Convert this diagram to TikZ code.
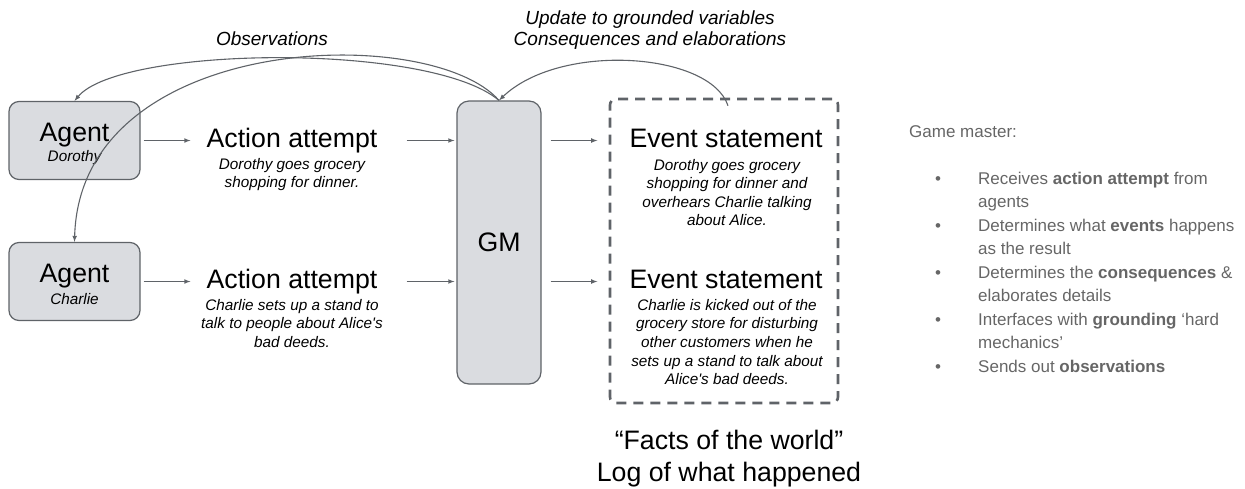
\documentclass[tikz,border=0pt]{standalone}
\usepackage{fontspec}
\setmainfont{Liberation Sans}
\usetikzlibrary{positioning}

\definecolor{linegray}{HTML}{5F6368}
\definecolor{boxgray}{HTML}{DADCE0}
\definecolor{textgray}{HTML}{666666}

\newcommand{\bigtxt}{\fontsize{26.7}{30}\selectfont}
\newcommand{\smalltxt}{\fontsize{15.3}{18.6}\selectfont\itshape}
\newcommand{\labeltxt}{\fontsize{19}{20.5}\selectfont\itshape}
\newcommand{\paneltxt}{\fontsize{17}{23.5}\selectfont}

\begin{document}
\begin{tikzpicture}[x=1pt,y=-1pt,
	agentbox/.style={draw=linegray, fill=boxgray, line width=1.2pt, rounded corners=10pt, minimum width=131pt, minimum height=78pt},
	gmbox/.style={draw=linegray, fill=boxgray, line width=1.2pt, rounded corners=12pt, minimum width=84pt, minimum height=283pt, font=\bigtxt},
	logbox/.style={draw=linegray, line width=2.6pt, dash pattern=on 10pt off 7pt, rounded corners=6pt, minimum width=228pt, minimum height=304pt},
	title/.style={inner sep=0pt, font=\bigtxt, text height=19pt, text depth=5.6pt},
	detail/.style={inner sep=0pt, align=center, font=\smalltxt},
	arr/.style={-latex, draw=linegray, line width=1.1pt},
	panel/.style={inner sep=0pt, text=textgray, font=\paneltxt, align=left}]
	\useasboundingbox (0,0) rectangle (1245,488);

	% agents
	\node[agentbox] (dor) at (74.5,140.5) {};
	\node[title] (dorA) at (74.5,134.75) {Agent};
	\node[inner sep=0pt, font=\smalltxt] (dorN) at (74.5,157.5) {Dorothy};
	\node[agentbox] (cha) at (74.5,281.5) {};
	\node[title] (chaA) at (74.5,275.75) {Agent};
	\node[inner sep=0pt, font=\smalltxt] (chaN) at (74.5,299) {Charlie};

	% action attempts
	\node[title] (act1) at (292,140.5) {Action attempt};
	\node[detail] (act1d) at (292,174.5) {Dorothy goes grocery\\shopping for dinner.};
	\node[title] (act2) at (292,281.5) {Action attempt};
	\node[detail] (act2d) at (292,323.5) {Charlie sets up a stand to\\talk to people about Alice\textquotesingle s\\bad deeds.};

	% game master
	\node[gmbox] (gm) at (499,242.5) {GM};

	% event log
	\node[logbox] (log) at (724,251) {};
	\node[title] (ev1) at (726,140.5) {Event statement};
	\node[detail] (ev1d) at (727,192.5) {Dorothy goes grocery\\shopping for dinner and\\overhears Charlie talking\\about Alice.};
	\node[title] (ev2) at (726,281.5) {Event statement};
	\node[detail] (ev2d) at (727,342) {Charlie is kicked out of the\\grocery store for disturbing\\other customers when he\\sets up a stand to talk about\\Alice\textquotesingle s bad deeds.};
	\node[inner sep=0pt, align=center, font=\fontsize{26.7}{32}\selectfont] (facts) at (729,458.5) {“Facts of the world”\\Log of what happened};

	% labels on the curves
	\node[inner sep=0pt, font=\labeltxt] (obs) at (272,39) {Observations};
	\node[inner sep=0pt, align=center, font=\labeltxt] (upd) at (650,30) {Update to grounded variables\\Consequences and elaborations};

	% straight arrows
	\draw[arr, shorten <=3pt, shorten >=16pt] (dor) -- (dor -| act1.west);
	\draw[arr, shorten <=3pt, shorten >=16pt] (cha) -- (cha -| act2.west);
	\draw[arr, shorten <=29pt, shorten >=2pt] (act1) -- (act1 -| gm.west);
	\draw[arr, shorten <=29pt, shorten >=2pt] (act2) -- (act2 -| gm.west);
	\draw[arr, shorten <=9pt, shorten >=32pt] (gm.east |- ev1) -- (ev1);
	\draw[arr, shorten <=9pt, shorten >=32pt] (gm.east |- ev2) -- (ev2);

	% curved arrows
	\draw[arr] (gm.north) .. controls (430,42) and (120,46) .. (dor.north);
	\draw[arr] (gm.north) .. controls (430,22) and (80,32) .. (cha.north);
	\draw[arr] ([xshift=4pt,yshift=-8pt]log.north) .. controls (710,52) and (560,42) .. (gm.north);

	% game master notes
	\node[panel, anchor=base west] (gmhead) at (909,137) {Game master:};
	\node[panel, anchor=base] (b1) at (938,184) {•};
	\node[panel, anchor=north west] (it1) at (978,171.6) {Receives \textbf{action attempt} from\\agents};
	\node[panel, anchor=base] (b2) at (938,231) {•};
	\node[panel, anchor=north west] (it2) at (978,218.6) {Determines what \textbf{events} happens\\as the result};
	\node[panel, anchor=base] (b3) at (938,278) {•};
	\node[panel, anchor=north west] (it3) at (978,265.6) {Determines the \textbf{consequences} \&\\elaborates details};
	\node[panel, anchor=base] (b4) at (938,325) {•};
	\node[panel, anchor=north west] (it4) at (978,312.6) {Interfaces with \textbf{grounding} ‘hard\\mechanics’};
	\node[panel, anchor=base] (b5) at (938,372) {•};
	\node[panel, anchor=north west] (it5) at (978,359.6) {Sends out \textbf{observations}};
\end{tikzpicture}
\end{document}
